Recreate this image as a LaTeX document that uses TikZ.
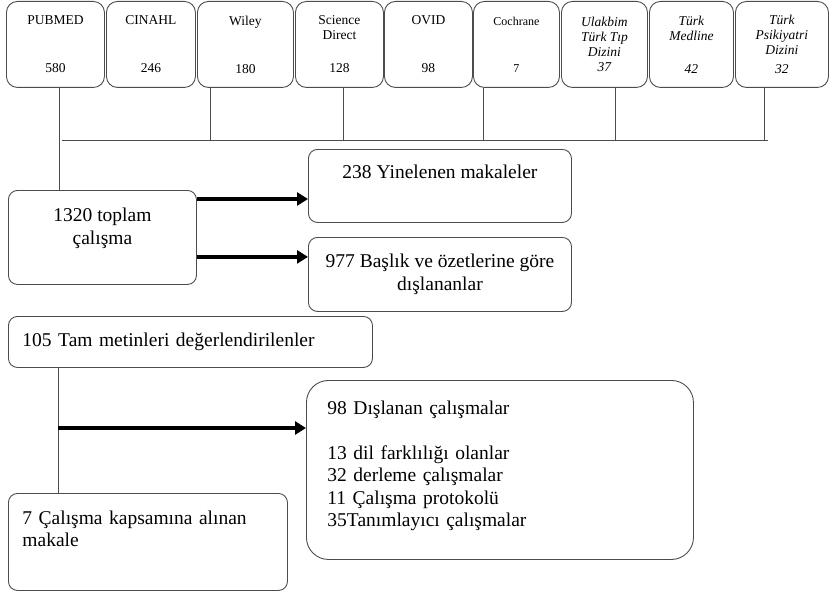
\documentclass[tikz,border=0pt]{standalone}
\usepackage{fontspec}
\setmainfont{Liberation Serif}
\usetikzlibrary{arrows.meta,positioning,calc}
\tikzset{
  kaynak/.style={rectangle, rounded corners=11pt, draw=black!70, line width=0.9pt,
    anchor=north west, inner sep=0pt, minimum height=86pt, align=center,
    font=\fontsize{13.5}{15}\selectfont},
  kaynak_it/.style={kaynak, font=\fontsize{13.5}{15}\selectfont\itshape},
  asama/.style={rectangle, rounded corners=9pt, draw=black!70, line width=0.9pt,
    anchor=north west, inner sep=0pt, align=center, font=\fontsize{19.5}{22.5}\selectfont},
  asama_sol/.style={asama, inner xsep=14pt, align=left}}

\begin{document}
\begin{tikzpicture}[x=1pt, y=-1pt]

\tikzset{
hat/.style={draw=black!70, line width=0.9pt},
okok/.style={-{Triangle[length=11pt, width=13pt]}, line width=3.6pt}
}

\useasboundingbox (0,0) rectangle (829,591);

%KAYNAKLAR
\node[kaynak, minimum width=98pt](pubmed) at (6,1) {PUBMED\\[33pt]580};
\node[kaynak, minimum width=89pt](cinahl) at (106,1) {CINAHL\\[33pt]246};
\node[kaynak, minimum width=96pt](wiley) at (197,1) {Wiley\\[33pt]180};
\node[kaynak, minimum width=88pt](science) at (295,1) {Science\\Direct\\[18pt]128};
\node[kaynak, minimum width=88pt](ovid) at (384,1) {OVID\\[33pt]98};
\node[kaynak, minimum width=86pt, font=\fontsize{12}{14}\selectfont](cochrane) at (473,1) {Cochrane\\[33pt]7};
\node[kaynak_it, minimum width=86pt](ulakbim) at (561,1) {Ulakbim\\Türk Tıp\\Dizini\\37};
\node[kaynak_it, minimum width=84pt](medline) at (649,1) {Türk\\Medline\\[18pt]42};
\node[kaynak_it, minimum width=93pt](psikiyatri) at (735,1) {Türk\\Psikiyatri\\Dizini\\[4pt]32};

%BAGLANTI
\coordinate (busbas) at (62,140);
\coordinate (bussonu) at (768,140);
\draw[hat] (busbas) -- (bussonu);
\draw[hat] ([xshift=-35pt]wiley.south) -- ([xshift=-35pt]wiley.south |- busbas);
\draw[hat] ([xshift=4pt]science.south) -- ([xshift=4pt]science.south |- busbas);
\draw[hat] ([xshift=-33pt]cochrane.south) -- ([xshift=-33pt]cochrane.south |- busbas);
\draw[hat] ([xshift=11pt]ulakbim.south) -- ([xshift=11pt]ulakbim.south |- busbas);
\draw[hat] ([xshift=-18pt]psikiyatri.south) -- ([xshift=-18pt]psikiyatri.south |- busbas);

%TARAMA
\node[asama, minimum width=188pt, minimum height=94pt](toplam) at (8,190) {
    1320 toplam\\çalışma\\\mbox{}
};

\draw[hat] ([xshift=4pt]pubmed.south) -- ([xshift=4pt]pubmed.south |- toplam.north);

\node[asama, minimum width=263pt, minimum height=73pt](yinelenen) at (308,149) {
    238 Yinelenen makaleler\\[5pt]\mbox{}
};

\node[asama, minimum width=263pt, minimum height=74pt](baslik) at (308,237) {
    977 Başlık ve özetlerine göre\\dışlananlar
};

\draw[okok] ([yshift=-9pt]toplam.north east) -- ([yshift=-9pt]toplam.north east -| yinelenen.west);
\draw[okok] ([yshift=28pt]toplam.south east) -- ([yshift=28pt]toplam.south east -| baslik.west);

%DEGERLENDIRME
\node[asama_sol, text width=336pt, minimum height=51pt](tam) at (8,316) {
    105 Tam metinleri değerlendirilenler
};

\node[asama_sol, rounded corners=22pt, inner xsep=21pt, text width=345pt, minimum height=179pt](dislanan) at (306,380) {
    98 Dışlanan çalışmalar\\[22.5pt]
    13 dil farklılığı olanlar\\
    32 derleme çalışmalar\\
    11 Çalışma protokolü\\
    35Tanımlayıcı çalışmalar\\[-10pt]\mbox{}
};

\node[asama_sol, text width=251pt, minimum height=97pt](alinan) at (8,493) {
    7 Çalışma kapsamına alınan\\makale\\[4pt]\mbox{}
};

\draw[hat] ([xshift=-132pt]tam.south) -- ([xshift=-132pt]tam.south |- alinan.north);

\coordinate (okucu) at ([yshift=-48pt]dislanan.north west);
\draw[okok] ([xshift=-132pt]tam.south |- okucu) -- (okucu);

\end{tikzpicture}
\end{document}
